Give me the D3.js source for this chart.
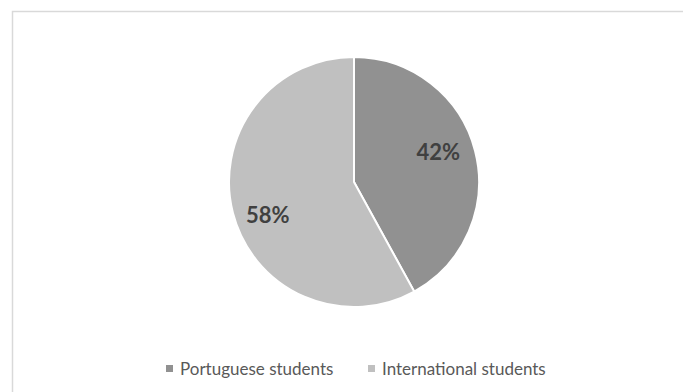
<!DOCTYPE html>
<html>
<head>
<meta charset="utf-8">
<script src="https://cdn.jsdelivr.net/npm/d3@7"></script>
<style>
  html, body { margin: 0; padding: 0; background: #fff; }
  svg { display: block; }
</style>
</head>
<body>
<svg id="chart" width="683" height="392"></svg>
<script>
// Student composition
const categories = ["Portuguese students", "International students"];
const shares = [42, 58];
const colors = ["#919191", "#c0c0c0"];

const svg = d3.select("#chart");
const font = "Lato, 'Open Sans', sans-serif";

// Chart-area frame
svg.append("rect")
  .attr("x", 12.5).attr("y", 11.5)
  .attr("width", 700).attr("height", 400)
  .attr("fill", "#fff")
  .attr("stroke", "#d9d9d9")
  .attr("stroke-width", 1.5);

const cx = 354, cy = 182, r = 125;

const pie = d3.pie().sort(null).value(d => d)(shares);
const arc = d3.arc().innerRadius(0).outerRadius(r);
const labelArc = d3.arc().innerRadius(r * 0.72).outerRadius(r * 0.72);
// small nudges for the label boxes
const labelNudge = [[-3, -8], [1, 11]];

const g = svg.append("g").attr("transform", `translate(${cx},${cy})`);

g.selectAll("path.slice")
  .data(pie)
  .join("path")
  .attr("class", "slice")
  .attr("d", arc)
  .attr("fill", (d, i) => colors[i])
  .attr("stroke", "#fff")
  .attr("stroke-width", 2);

g.selectAll("text.pct")
  .data(pie)
  .join("text")
  .attr("class", "pct")
  .attr("transform", (d, i) => {
    const [x, y] = labelArc.centroid(d);
    return `translate(${x + labelNudge[i][0]},${y + labelNudge[i][1]})`;
  })
  .attr("text-anchor", "middle")
  .attr("dy", "0.36em")
  .attr("font-family", font)
  .attr("font-weight", "bold")
  .attr("font-size", 22)
  .attr("fill", "#404040")
  .text(d => d.data + "%");

// Legend
const legend = svg.append("g").attr("font-family", font).attr("font-size", 17).attr("fill", "#595959");
const legendX = [166, 368];
categories.forEach((c, i) => {
  const item = legend.append("g").attr("transform", `translate(${legendX[i]},369)`);
  item.append("rect").attr("x", 0).attr("y", -4).attr("width", 7).attr("height", 7).attr("fill", colors[i]);
  item.append("text").attr("x", 14).attr("y", 0).attr("dy", "0.36em").text(c);
});
</script>
</body>
</html>
